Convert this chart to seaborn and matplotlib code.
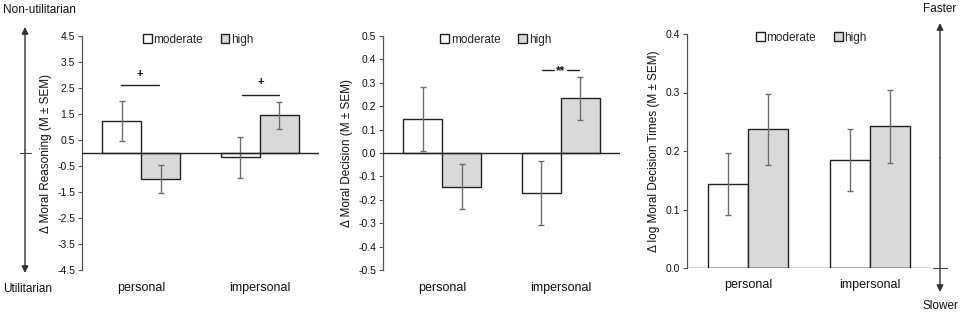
import numpy as np
import pandas as pd
import matplotlib
matplotlib.use("Agg")
import matplotlib.pyplot as plt
from matplotlib.patches import Rectangle
import seaborn as sns

sns.set_theme(style="white")
plt.rcParams['font.family'] = ['Liberation Sans Narrow', 'Liberation Sans', 'DejaVu Sans']

categories = ["personal", "impersonal"]
groups = ["moderate", "high"]

# Panel 1: Moral Reasoning
reason_mod = [1.23, -0.17]
reason_high = [-1.01, 1.46]
reason_mod_sem = [0.78, 0.78]
reason_high_sem = [0.53, 0.52]

# Panel 2: Moral Decision
dec_mod = [0.145, -0.172]
dec_high = [-0.144, 0.233]
dec_mod_sem = [0.137, 0.136]
dec_high_sem = [0.095, 0.092]

# Panel 3: log Moral Decision Times
rt_mod = [0.144, 0.185]
rt_high = [0.237, 0.242]
rt_mod_sem = [0.053, 0.053]
rt_high_sem = [0.061, 0.062]

reason_ticks = [4.5, 3.5, 2.5, 1.5, 0.5, -0.5, -1.5, -2.5, -3.5, -4.5]
dec_ticks = [0.5, 0.4, 0.3, 0.2, 0.1, 0.0, -0.1, -0.2, -0.3, -0.4, -0.5]
rt_ticks = [0.0, 0.1, 0.2, 0.3, 0.4]

W, H = 963, 317
fig = plt.figure(figsize=(W / 100, H / 100), dpi=100)

def fx(px):
    return px / W

def fy(py):
    return 1 - py / H

colors = {"moderate": "#ffffff", "high": "#d9d9d9"}
EDGE = "#222222"
ERR = "#6e6e6e"
AX = "#555555"
TXT = "#111111"


def panel(rect, mod, high, mod_sem, high_sem, ticks, ylim, ylabel, ticklabels, legx, bottom_zero=False):
    ax = fig.add_axes(rect)
    df = pd.DataFrame({
        "category": categories * 2,
        "group": [groups[0]] * 2 + [groups[1]] * 2,
        "value": list(mod) + list(high),
    })
    sns.barplot(data=df, x="category", y="value", hue="group", order=categories,
                hue_order=groups, palette=colors, width=0.66, errorbar=None,
                edgecolor=EDGE, linewidth=1.0, ax=ax, legend=True, zorder=2)
    sems = list(mod_sem) + list(high_sem)
    vals = list(mod) + list(high)
    bars = [p for p in ax.patches if isinstance(p, Rectangle) and p.get_width() > 0][:4]
    for p, v, s in zip(bars, vals, sems):
        cx = p.get_x() + p.get_width() / 2
        ax.errorbar(cx, v, yerr=s, fmt="none", ecolor=ERR, elinewidth=1.0,
                    capsize=2, capthick=1.0, zorder=3)
    ax.axhline(0, color="#222222", lw=1.0, zorder=4)
    ax.set_xlim(-0.5, 1.5)
    ax.set_ylim(*ylim)
    ax.set_yticks(ticks)
    ax.set_yticklabels(ticklabels, fontsize=7.5, color=TXT)
    ax.tick_params(axis="y", which="both", left=True, length=3, width=0.8, color=AX, pad=2)
    ax.tick_params(axis="x", length=0, pad=9 if not bottom_zero else 8, labelsize=9, labelcolor=TXT)
    for s in ["top", "right", "bottom"]:
        ax.spines[s].set_visible(False)
    ax.spines["left"].set_color(AX)
    ax.spines["left"].set_linewidth(0.9)
    ax.set_xlabel("")
    ax.set_ylabel(ylabel, fontsize=8.5, color=TXT, labelpad=4)
    ax.set_facecolor("none")
    ax.legend(loc="upper center", bbox_to_anchor=(legx, 1.03), ncol=2, frameon=False,
              fontsize=8.5, handlelength=0.75, handleheight=0.75, handletextpad=0.15,
              columnspacing=1.5, borderaxespad=0)
    for h in ax.get_legend().legend_handles:
        h.set_edgecolor("#222222")
        h.set_linewidth(1.0)
    return ax


ax1 = panel([fx(82), fy(270), fx(237), fy(36) - fy(270)], reason_mod, reason_high,
            reason_mod_sem, reason_high_sem, reason_ticks, (-4.5, 4.5),
            "Δ Moral Reasoning (M ± SEM)", [f"{t:.1f}" for t in reason_ticks], 0.49)
ax2 = panel([fx(383), fy(270), fx(237), fy(36) - fy(270)], dec_mod, dec_high,
            dec_mod_sem, dec_high_sem, dec_ticks, (-0.5, 0.5),
            "Δ Moral Decision (M ± SEM)", [f"{t:.1f}" for t in dec_ticks], 0.475)
ax3 = panel([fx(687), fy(268), fx(244), fy(34) - fy(268)], rt_mod, rt_high,
            rt_mod_sem, rt_high_sem, rt_ticks, (0.0, 0.4),
            "Δ log Moral Decision Times (M ± SEM)", [f"{t:.1f}" for t in rt_ticks], 0.51,
            bottom_zero=True)

# significance markers
def sig(ax, x0, x1, y, text, ty, gap=False):
    if gap:
        xm = (x0 + x1) / 2
        ax.plot([x0, xm - 0.055], [y, y], color="#222222", lw=1.0)
        ax.plot([xm + 0.055, x1], [y, y], color="#222222", lw=1.0)
        ax.text(xm, y - 0.006, text, ha="center", va="center", fontsize=8.5, color=TXT,
                fontweight="bold")
    else:
        ax.plot([x0, x1], [y, y], color="#222222", lw=1.0)
        ax.text((x0 + x1) / 2, ty, text, ha="center", va="center", fontsize=8, color=TXT,
                fontweight="bold")

sig(ax1, -0.17, 0.15, 2.63, "+", 3.05)
sig(ax1, 0.85, 1.16, 2.25, "+", 2.72)
sig(ax2, 0.84, 1.15, 0.356, "**", 0.356, gap=True)

# side arrows
ARR = "#333333"
def arrow(x, y0, y1):
    for ya in (y0, y1):
        fig.add_artist(matplotlib.patches.FancyArrowPatch(
            (fx(x), fy((y0 + y1) / 2)), (fx(x), fy(ya)), transform=fig.transFigure,
            arrowstyle="-|>,head_length=4,head_width=2", color=ARR, lw=1.0,
            shrinkA=0, shrinkB=0, mutation_scale=1))

arrow(25, 27, 273)
fig.add_artist(plt.Line2D([fx(20), fx(31)], [fy(153), fy(153)], color="#444444", lw=0.8,
                          transform=fig.transFigure))
fig.text(fx(3), fy(10), "Non-utilitarian", fontsize=8.5, ha="left", va="center", color=TXT)
fig.text(fx(3), fy(289), "Utilitarian", fontsize=8.5, ha="left", va="center", color=TXT)

arrow(940, 23, 292)
fig.add_artist(plt.Line2D([fx(933), fx(947)], [fy(268), fy(268)], color="#444444", lw=0.8,
                          transform=fig.transFigure))
fig.text(fx(940), fy(9), "Faster", fontsize=8.5, ha="center", va="center", color=TXT)
fig.text(fx(940), fy(306), "Slower", fontsize=8.5, ha="center", va="center", color=TXT)

fig.savefig("out.png", dpi=100, facecolor="white")
